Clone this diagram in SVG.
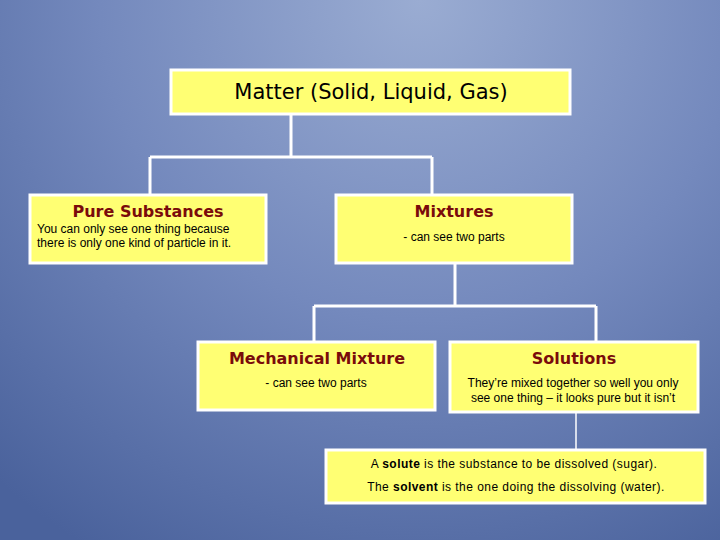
<svg xmlns="http://www.w3.org/2000/svg" width="720" height="540" viewBox="0 0 720 540">
<defs>
<radialGradient id="bg" cx="420" cy="0" r="640" gradientUnits="userSpaceOnUse">
<stop offset="0" stop-color="#9aacd2"/>
<stop offset="0.5" stop-color="#7489bd"/>
<stop offset="1" stop-color="#4a629c"/>
</radialGradient>
<style>
.box{fill:#ffff73;stroke:#ffffff;stroke-width:3}
.ln{fill:none;stroke:#ffffff;stroke-width:3}
.thin{fill:none;stroke:#ffffff;stroke-width:1.5}
.title{font-family:"DejaVu Sans","Liberation Sans",sans-serif;font-weight:bold;font-size:16px;fill:#7a0b0b;text-anchor:middle}
.body{font-family:"Liberation Sans",Arial,sans-serif;font-size:12px;fill:#000}
.mid{text-anchor:middle}
.wide{letter-spacing:0.45px}
</style>
</defs>
<rect width="720" height="540" fill="url(#bg)"/>
<g id="connectors">
<path class="ln" d="M291,114 V157 M150,157 H432 M150,157 V195 M432,157 V195"/>
<path class="ln" d="M455,263 V306 M314,306 H596 M314,306 V342 M596,306 V342"/>
<path class="thin" d="M576,412 V450"/>
</g>
<g id="matter">
<rect class="box" x="171" y="70" width="399" height="44"/>
<text x="371" y="99" font-family="DejaVu Sans, Liberation Sans, sans-serif" font-size="21" text-anchor="middle" fill="#000">Matter (Solid, Liquid, Gas)</text>
</g>
<g id="pure">
<rect class="box" x="30" y="195" width="236" height="68"/>
<text class="title" x="148" y="217">Pure Substances</text>
<text class="body" x="37" y="233">You can only see one thing because</text>
<text class="body" x="37" y="247">there is only one kind of particle in it.</text>
</g>
<g id="mixtures">
<rect class="box" x="336" y="195" width="236" height="68"/>
<text class="title" x="454" y="217">Mixtures</text>
<text class="body mid" x="454" y="241">- can see two parts</text>
</g>
<g id="mechanical">
<rect class="box" x="198" y="342" width="237" height="68"/>
<text class="title" x="317" y="364">Mechanical Mixture</text>
<text class="body mid" x="316" y="387">- can see two parts</text>
</g>
<g id="solutions">
<rect class="box" x="450" y="342" width="248" height="70"/>
<text class="title" x="574" y="364">Solutions</text>
<text class="body mid" x="573" y="387">They’re mixed together so well you only</text>
<text class="body mid" x="573" y="402">see one thing – it looks pure but it isn’t</text>
</g>
<g id="solute">
<rect class="box" x="326" y="450" width="379" height="53"/>
<text class="body mid wide" x="514" y="468">A <tspan font-weight="bold">solute</tspan> is the substance to be dissolved (sugar).</text>
<text class="body mid wide" x="516" y="491">The <tspan font-weight="bold">solvent</tspan> is the one doing the dissolving (water).</text>
</g>
</svg>
